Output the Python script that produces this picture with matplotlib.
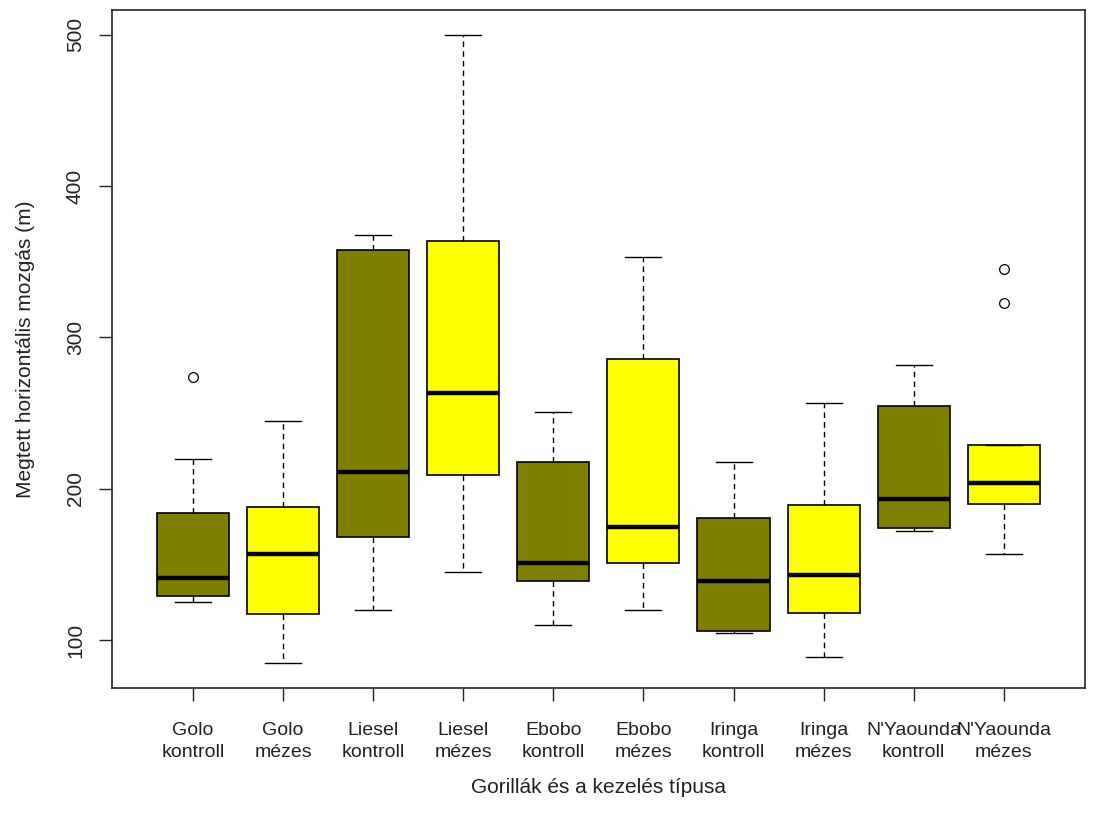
import matplotlib.pyplot as plt

plt.rcParams['font.family'] = ['Liberation Sans', 'DejaVu Sans']

labels = ['Golo\nkontroll', 'Golo\nmézes', 'Liesel\nkontroll', 'Liesel\nmézes',
          'Ebobo\nkontroll', 'Ebobo\nmézes', 'Iringa\nkontroll', 'Iringa\nmézes',
          "N'Yaounda\nkontroll", "N'Yaounda\nmézes"]
whislo = [125, 85, 120, 145, 110, 120, 105, 89, 172, 157]
q1 = [129, 117, 168, 209, 139, 151, 106, 118, 174, 190]
med = [141, 157, 211, 263, 151, 175, 139, 143, 193, 204]
q3 = [184, 188, 358, 364, 218, 286, 181, 189, 255, 229]
whishi = [220, 245, 368, 500, 251, 353, 218, 257, 282, 229]
fliers = [[274], [], [], [], [], [], [], [], [], [345, 323]]
colors = ['#808000', '#FFFF00'] * 5

stats = []
for i in range(len(labels)):
    stats.append({'whislo': whislo[i], 'q1': q1[i], 'med': med[i], 'q3': q3[i],
                  'whishi': whishi[i], 'fliers': fliers[i], 'label': labels[i]})

fig = plt.figure(figsize=(10.98, 8.16), dpi=100)
ax = fig.add_axes([0.102, 0.157, 0.886, 0.831])

bp = ax.bxp(stats, positions=range(1, 11), widths=0.8, capwidths=0.4,
            patch_artist=True,
            boxprops=dict(edgecolor='black', linewidth=1.2),
            medianprops=dict(color='black', linewidth=3.2, solid_capstyle='butt'),
            whiskerprops=dict(color='black', linewidth=1.0, linestyle=(0, (4, 3))),
            capprops=dict(color='black', linewidth=1.0),
            flierprops=dict(marker='o', markerfacecolor='none', markeredgecolor='black',
                            markersize=7, markeredgewidth=0.9))
for patch, c in zip(bp['boxes'], colors):
    patch.set_facecolor(c)

fs = 15
ax.set_xlim(0.1, 10.9)
ax.set_ylim(68.4, 516.6)
ax.set_yticks([100, 200, 300, 400, 500])
ax.set_yticklabels(['100', '200', '300', '400', '500'], rotation=90, va='center')
ax.tick_params(axis='y', length=9.5, width=1.0, pad=10, labelsize=fs, colors='#222222')
ax.tick_params(axis='x', length=9.5, width=1.0, pad=15, labelsize=14, colors='#222222')
ax.set_xticks(range(1, 11))
ax.set_xticklabels(labels, linespacing=1.4)
for s in ax.spines.values():
    s.set_linewidth(1.2)
    s.set_color('#222222')

ax.set_xlabel('Gorillák és a kezelés típusa', fontsize=fs, color='#222222', labelpad=12)
ax.set_ylabel('Megtett horizontális mozgás (m)', fontsize=fs, color='#222222', labelpad=22)

fig.savefig('out.png', dpi=100)
